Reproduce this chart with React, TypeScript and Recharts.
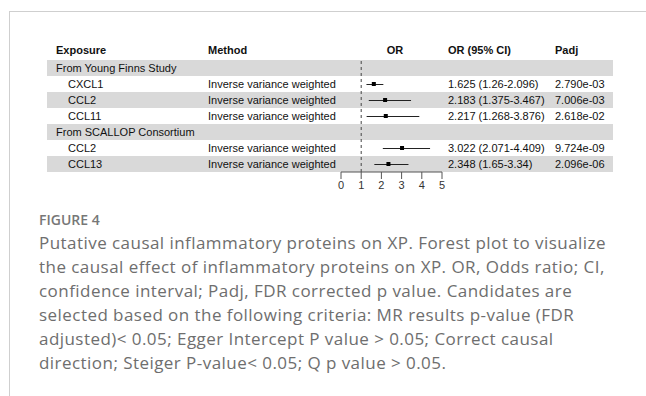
import React from 'react';
import { ComposedChart, Bar, Line, XAxis, YAxis, ReferenceLine } from 'recharts';

const rowLabels = ['From Young Finns Study', 'CXCL1', 'CCL2', 'CCL11', 'From SCALLOP Consortium', 'CCL2', 'CCL13'];
const isGroup = [true, false, false, false, true, false, false];
const methods = ['', 'Inverse variance weighted', 'Inverse variance weighted', 'Inverse variance weighted', '', 'Inverse variance weighted', 'Inverse variance weighted'];
const orValues = [null, 1.625, 2.183, 2.217, null, 3.022, 2.348];
const ciLow = [null, 1.26, 1.375, 1.268, null, 2.071, 1.65];
const ciHigh = [null, 2.096, 3.467, 3.876, null, 4.409, 3.34];
const orText = ['', '1.625 (1.26-2.096)', '2.183 (1.375-3.467)', '2.217 (1.268-3.876)', '', '3.022 (2.071-4.409)', '2.348 (1.65-3.34)'];
const padjText = ['', '2.790e-03', '7.006e-03', '2.618e-02', '', '9.724e-09', '2.096e-06'];
const xTicks = [0, 1, 2, 3, 4, 5];

const captionLines = [
  'Putative causal inflammatory proteins on XP. Forest plot to visualize',
  'the causal effect of inflammatory proteins on XP. OR, Odds ratio; CI,',
  'confidence interval; Padj, FDR corrected p value. Candidates are',
  'selected based on the following criteria: MR results p-value (FDR',
  'adjusted)< 0.05; Egger Intercept P value > 0.05; Correct causal',
  'direction; Steiger P-value< 0.05; Q p value > 0.05.',
];

const data = rowLabels.map((label, i) => ({
  id: 'r' + i,
  label,
  or: orValues[i],
  ci: ciLow[i] != null ? [ciLow[i], ciHigh[i]] : null,
}));

const ROW_TOP = 60;
const ROW_H = 16;
const tableFont = '"Liberation Sans", Arial, sans-serif';

const Square = (props: any) => {
  const { cx, cy, payload } = props;
  if (cx == null || cy == null || payload?.or == null) return null;
  return <rect key={payload.id} x={cx - 2} y={cy - 2} width={4} height={4} fill="#000" />;
};

const cell = (left: number, top: number, bold = false, center = false): React.CSSProperties => ({
  position: 'absolute',
  left: center ? left - 50 : left,
  width: center ? 100 : undefined,
  textAlign: center ? 'center' : 'left',
  top,
  height: ROW_H,
  lineHeight: ROW_H + 'px',
  fontSize: 11,
  fontWeight: bold ? 700 : 400,
  whiteSpace: 'nowrap',
  color: '#111',
});

export default function App() {
  return (
    <div style={{ position: 'absolute', left: 0, top: 0, width: 646, height: 396, background: '#fff', overflow: 'hidden', fontFamily: tableFont }}>
      {/* frame */}
      <div style={{ position: 'absolute', left: 9, top: 11, width: 637, height: 1, background: '#cfcfcf' }} />
      <div style={{ position: 'absolute', left: 9, top: 11, width: 1, height: 385, background: '#cfcfcf' }} />

      {/* row bands */}
      {rowLabels.map((_, i) =>
        i % 2 === 0 ? (
          <div key={'b' + i} style={{ position: 'absolute', left: 47, top: ROW_TOP + i * ROW_H, width: 566, height: ROW_H, background: '#d9d9d9' }} />
        ) : null
      )}

      <div style={{ position: 'absolute', left: 0, top: 0 }}>
        <ComposedChart
          width={646}
          height={200}
          layout="vertical"
          data={data}
          margin={{ top: ROW_TOP, right: 204, bottom: 0, left: 341 }}
          barCategoryGap={0}
        >
          <XAxis
            type="number"
            domain={[0, 5]}
            ticks={xTicks}
            height={28}
            stroke="#555"
            tickSize={7}
            tick={{ fill: '#333', fontSize: 11, fontFamily: tableFont }}
          />
          <YAxis type="category" dataKey="id" hide />
          <ReferenceLine x={1} stroke="#444" strokeDasharray="3 3" />
          <Bar dataKey="ci" barSize={1} fill="#222" isAnimationActive={false} />
          <Line dataKey="or" stroke="none" dot={<Square />} activeDot={false} isAnimationActive={false} />
        </ComposedChart>
      </div>

      {/* header */}
      <div style={cell(56, 42, true)}>Exposure</div>
      <div style={cell(208, 42, true)}>Method</div>
      <div style={cell(395, 42, true, true)}>OR</div>
      <div style={cell(448, 42, true)}>OR (95% CI)</div>
      <div style={cell(555, 42, true)}>Padj</div>

      {rowLabels.map((label, i) => {
        const top = ROW_TOP + i * ROW_H;
        return (
          <React.Fragment key={'t' + i}>
            <div style={cell(isGroup[i] ? 56 : 68, top)}>{label}</div>
            <div style={cell(208, top)}>{methods[i]}</div>
            <div style={cell(448, top)}>{orText[i]}</div>
            <div style={cell(555, top)}>{padjText[i]}</div>
          </React.Fragment>
        );
      })}

      {/* caption */}
      <div style={{ position: 'absolute', left: 39, top: 211, fontFamily: '"Open Sans", sans-serif', fontSize: 14, lineHeight: '18px', fontWeight: 600, color: '#777' }}>
        FIGURE 4
      </div>
      <div style={{ position: 'absolute', left: 39, top: 231, fontFamily: '"Open Sans", sans-serif', fontSize: 17, lineHeight: '24px', letterSpacing: '0.45px', color: '#6e6e6e', whiteSpace: 'nowrap' }}>
        {captionLines.map((l, i) => (
          <div key={i}>{l}</div>
        ))}
      </div>
    </div>
  );
}
